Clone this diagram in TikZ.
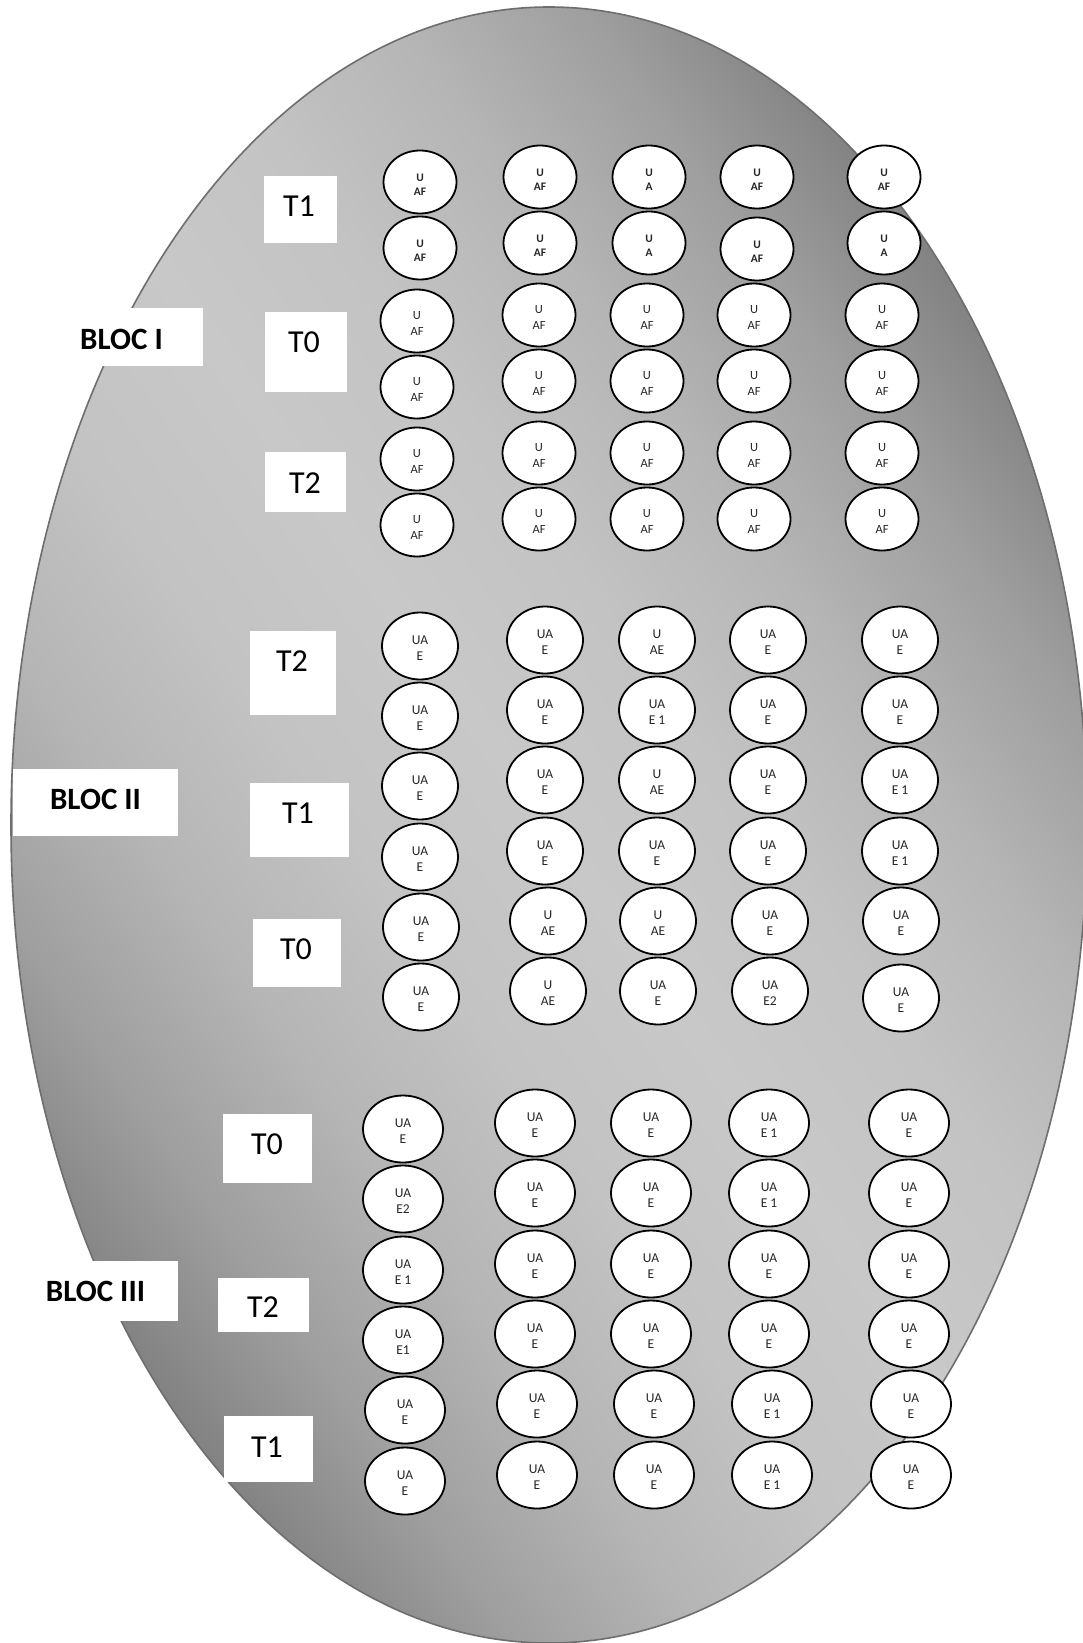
\documentclass[tikz,border=0pt]{standalone}
\usepackage{fontspec}
\setmainfont{Carlito}
\usetikzlibrary{shapes.geometric}
\definecolor{gA}{gray}{0.494}
\definecolor{gB}{gray}{0.622}
\definecolor{gC}{gray}{0.712}
\definecolor{gD}{gray}{0.765}
\definecolor{gE}{gray}{0.784}
\definecolor{ovedge}{HTML}{6E6E6E}
\pgfdeclareverticalshading{ovalshade}{100bp}{color(0bp)=(gA); color(30bp)=(gA); color(35bp)=(gB); color(40bp)=(gC); color(45bp)=(gD); color(50bp)=(gE); color(55bp)=(gD); color(60bp)=(gC); color(65bp)=(gB); color(70bp)=(gA); color(100bp)=(gA)}
\tikzset{
  cir/.style={ellipse, draw=black, line width=1.8pt, fill=white, inner sep=0pt},
  cirA/.style={cir, minimum width=73pt, minimum height=63pt},
  cirB/.style={cir, minimum width=76pt, minimum height=67pt},
  cirC/.style={cir, minimum width=80pt, minimum height=67pt},
  ctxt/.style={align=center, inner sep=0pt, text=black!85},
  ftA/.style={font=\fontsize{11.5}{14.3}\selectfont\bfseries},
  ftAr/.style={font=\fontsize{12.5}{15.3}\selectfont},
  ftB/.style={font=\fontsize{13.5}{16}\selectfont},
  lblbox/.style={fill=white, draw=none, inner sep=0pt},
  tlab/.style={font=\fontsize{32}{38}\selectfont, inner sep=0pt},
  blab/.style={font=\fontsize{31}{37}\selectfont\bfseries, inner sep=0pt},
}
\newcommand{\ucell}[6]{%
  \node[#2] (#1) at (#3,#4) {};
  \node[ctxt,#5] (#1-t) at ([yshift=-2.5pt]#1.center) {#6};}
\newcommand{\ubox}[5]{%
  \node[lblbox, minimum width=#4pt-#2pt, minimum height=#5pt-#3pt] (#1) at ({(#2+#4)/2},{(#3+#5)/2}) {};}
\begin{document}
\begin{tikzpicture}[x=1pt, y=-1pt]
\useasboundingbox (0,0) rectangle (1083,1643);
\fill[white] (0,0) rectangle (1083,1643);
% oval with gradient
\begin{scope}
  \clip (549,825) ellipse [x radius=538, y radius=818];
  \shade[shading=ovalshade, shading angle=-55] (-281,-5) rectangle (1379,1655);
\end{scope}
\draw[ovedge, line width=1.6pt] (549,825) ellipse [x radius=538, y radius=818];

% label boxes
\ubox{bxI1}{264}{176}{337}{243}
\ubox{bxI0}{265}{312}{347}{392}
\ubox{bxI2}{265}{452}{346}{512}
\ubox{bxBI}{60}{308}{203}{366}
\ubox{bxII2}{250}{631}{336}{715}
\ubox{bxBII}{13}{769}{178}{836}
\ubox{bxII1}{250}{783}{349}{857}
\ubox{bxII0}{253}{919}{341}{987}
\ubox{bxIII0}{223}{1114}{312}{1183}
\ubox{bxBIII}{20}{1261}{178}{1321}
\ubox{bxIII2}{218}{1278}{309}{1332}
\ubox{bxIII1}{224}{1416}{313}{1482}

\node[tlab] (tI1) at (299,206) {T1};
\node[tlab] (tI0) at (304,342) {T0};
\node[tlab] (tI2) at (305,483) {T2};
\node[blab] (tBI) at (121.5,339) {BLOC I};
\node[tlab] (tII2) at (292,661) {T2};
\node[blab] (tBII) at (95.5,799) {BLOC II};
\node[tlab] (tII1) at (298,813) {T1};
\node[tlab] (tII0) at (296,949) {T0};
\node[tlab] (tIII0) at (267,1144.5) {T0};
\node[blab] (tBIII) at (95.5,1291.5) {BLOC III};
\node[tlab] (tIII2) at (263,1307.5) {T2};
\node[tlab] (tIII1) at (267,1447) {T1};

% ---------- BLOC I ----------
\ucell{a11}{cirA}{420}{182}{ftA}{U\\AF}
\ucell{a12}{cirA}{420}{248}{ftA}{U\\AF}
\ucell{a21}{cirA}{540}{177}{ftA}{U\\AF}
\ucell{a22}{cirA}{540}{243}{ftA}{U\\AF}
\ucell{a31}{cirA}{649}{177}{ftA}{U\\A}
\ucell{a32}{cirA}{649}{243}{ftA}{U\\A}
\ucell{a41}{cirA}{757}{177}{ftA}{U\\AF}
\ucell{a42}{cirA}{757}{249}{ftA}{U\\AF}
\ucell{a51}{cirA}{884}{177}{ftA}{U\\AF}
\ucell{a52}{cirA}{884}{243}{ftA}{U\\A}
\foreach \c/\x/\d in {1/417/6, 2/539/0, 3/647/0, 4/754/0, 5/882/0}{
  \foreach \r/\y in {3/315, 4/381, 5/453, 6/519}{
    \ucell{a\c\r}{cirA}{\x}{\y+\d}{ftAr}{U\\AF}
  }
}

% ---------- BLOC II ----------
\ucell{b11}{cirB}{420}{646}{ftB}{UA\\E}
\ucell{b12}{cirB}{420}{716}{ftB}{UA\\E}
\ucell{b13}{cirB}{420}{786}{ftB}{UA\\E}
\ucell{b14}{cirB}{420}{857}{ftB}{UA\\E}
\ucell{b15}{cirB}{421}{927}{ftB}{UA\\E}
\ucell{b16}{cirB}{421}{997}{ftB}{UA\\E}
\ucell{b21}{cirB}{545}{640}{ftB}{UA\\E}
\ucell{b22}{cirB}{545}{710}{ftB}{UA\\E}
\ucell{b23}{cirB}{545}{780}{ftB}{UA\\E}
\ucell{b24}{cirB}{545}{851}{ftB}{UA\\E}
\ucell{b25}{cirB}{548}{921}{ftB}{U\\AE}
\ucell{b26}{cirB}{548}{991}{ftB}{U\\AE}
\ucell{b31}{cirB}{657}{640}{ftB}{U\\AE}
\ucell{b32}{cirB}{657}{710}{ftB}{UA\\E 1}
\ucell{b33}{cirB}{657}{780}{ftB}{U\\AE}
\ucell{b34}{cirB}{657}{851}{ftB}{UA\\E}
\ucell{b35}{cirB}{658}{921}{ftB}{U\\AE}
\ucell{b36}{cirB}{658}{991}{ftB}{UA\\E}
\ucell{b41}{cirB}{768}{640}{ftB}{UA\\E}
\ucell{b42}{cirB}{768}{710}{ftB}{UA\\E}
\ucell{b43}{cirB}{768}{780}{ftB}{UA\\E}
\ucell{b44}{cirB}{768}{851}{ftB}{UA\\E}
\ucell{b45}{cirB}{770}{921}{ftB}{UA\\E}
\ucell{b46}{cirB}{770}{991}{ftB}{UA\\E2}
\ucell{b51}{cirB}{900}{640}{ftB}{UA\\E}
\ucell{b52}{cirB}{900}{710}{ftB}{UA\\E}
\ucell{b53}{cirB}{900}{780}{ftB}{UA\\E 1}
\ucell{b54}{cirB}{900}{851}{ftB}{UA\\E 1}
\ucell{b55}{cirB}{901}{921}{ftB}{UA\\E}
\ucell{b56}{cirB}{901}{998}{ftB}{UA\\E}

% ---------- BLOC III ----------
\ucell{c11}{cirC}{403}{1129}{ftB}{UA\\E}
\ucell{c12}{cirC}{403}{1199}{ftB}{UA\\E2}
\ucell{c13}{cirC}{403}{1270}{ftB}{UA\\E 1}
\ucell{c14}{cirC}{403}{1340}{ftB}{UA\\E1}
\ucell{c15}{cirC}{405}{1410}{ftB}{UA\\E}
\ucell{c16}{cirC}{405}{1481}{ftB}{UA\\E}
\foreach \c/\xa/\xb in {2/535/537, 3/651/654, 5/909/911}{
  \foreach \r/\y in {1/1123, 2/1193, 3/1264, 4/1334}{
    \ucell{c\c\r}{cirC}{\xa}{\y}{ftB}{UA\\E}
  }
  \foreach \r/\y in {5/1404, 6/1475}{
    \ucell{c\c\r}{cirC}{\xb}{\y}{ftB}{UA\\E}
  }
}
\ucell{c41}{cirC}{769}{1123}{ftB}{UA\\E 1}
\ucell{c42}{cirC}{769}{1193}{ftB}{UA\\E 1}
\ucell{c43}{cirC}{769}{1264}{ftB}{UA\\E}
\ucell{c44}{cirC}{769}{1334}{ftB}{UA\\E}
\ucell{c45}{cirC}{772}{1404}{ftB}{UA\\E 1}
\ucell{c46}{cirC}{772}{1475}{ftB}{UA\\E 1}
\end{tikzpicture}
\end{document}
